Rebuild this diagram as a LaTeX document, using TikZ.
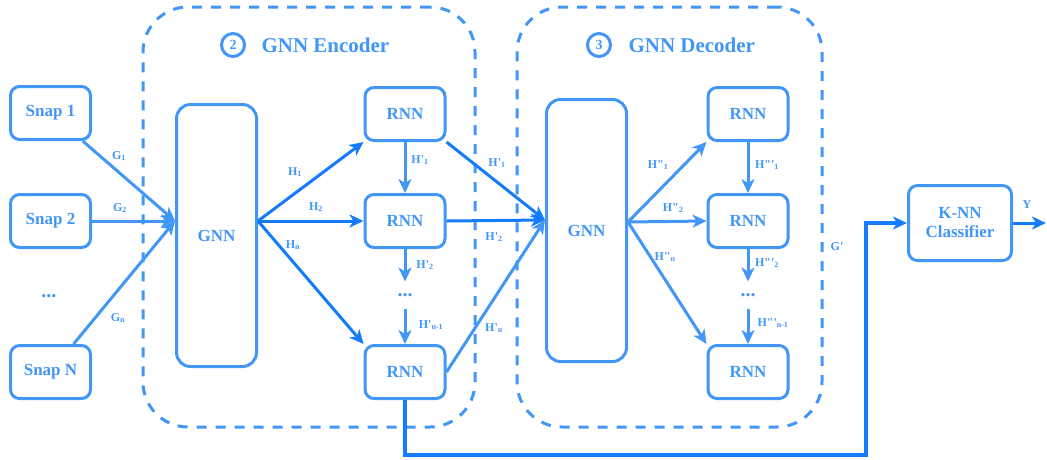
\documentclass[tikz,border=0pt]{standalone}
\usepackage{fontspec}
\setmainfont{Liberation Serif}
\usepackage{tikz}
\usetikzlibrary{arrows.meta}
\definecolor{boxblue}{RGB}{66,150,245}
\definecolor{arrowblue}{RGB}{20,124,250}
\newcommand{\pq}{\textquotesingle}
\newcommand{\pqq}{\textquotedbl}

\begin{document}
\begin{tikzpicture}[x=1pt,y=-1pt,->,>={Stealth[length=14pt,width=13pt,inset=4pt]},line width=3pt,draw=boxblue,
  box/.style={draw=boxblue,rounded corners=9pt,minimum width=80pt,minimum height=53pt,inner sep=0pt,text=boxblue,font=\fontsize{17}{19}\selectfont\bfseries,align=center},
  gnn node/.style={box,rounded corners=14pt,minimum height=262pt},
  container/.style={draw=boxblue,dash pattern=on 10pt off 9pt,rounded corners=45pt,minimum height=420pt,inner sep=0pt},
  num node/.style={circle,draw=boxblue,minimum size=23pt,inner sep=0pt,text=boxblue,font=\fontsize{14}{15}\selectfont\bfseries},
  title node/.style={anchor=west,inner sep=0pt,text=boxblue,font=\fontsize{21}{23}\selectfont\bfseries},
  dots node/.style={inner sep=0pt,minimum height=24pt,text=boxblue,font=\fontsize{20}{22}\selectfont\bfseries},
  lbl/.style={inner sep=0pt,text=boxblue,font=\fontsize{12}{13}\selectfont\bfseries},
  dark/.style={draw=arrowblue}]
  \useasboundingbox (0,0) rectangle (1047,459);

  % containers and titles
  \node[container,minimum width=332pt] (enc) at (309,217) {};
  \node[container,minimum width=305pt] (dec) at (669.5,217) {};
  \node[num node] (n2) at (233,45) {2};
  \node[title node] (enctitle) at (260,45) {GNN Encoder};
  \node[num node] (n3) at (599,45) {3};
  \node[title node] (dectitle) at (627,45) {GNN Decoder};

  % snapshots
  \node[box] (snap1) at (50.5,113) {Snap 1};
  \node[box] (snap2) at (50.5,221) {Snap 2};
  \node[dots node] (snapdots) at (49,296) {...};
  \node[box] (snapn) at (50.5,372) {Snap N};

  % encoder
  \node[gnn node] (gnnenc) at (216.5,235.5) {GNN};
  \coordinate (gin) at (175,221);
  \coordinate (gout) at (258,221);
  \node[box] (rnn1) at (405,114) {RNN};
  \node[box] (rnn2) at (405,221) {RNN};
  \node[dots node] (edots) at (405,295) {...};
  \node[box] (rnn3) at (405,372) {RNN};

  % decoder
  \node[gnn node] (gnndec) at (586.5,230.5) {GNN};
  \coordinate (din) at (545,220);
  \coordinate (dout) at (628,222);
  \node[box] (drnn1) at (748,114) {RNN};
  \node[box] (drnn2) at (748,221) {RNN};
  \node[dots node] (ddots) at (748,295) {...};
  \node[box] (drnn3) at (748,372) {RNN};

  % classifier
  \node[box,minimum width=103pt,minimum height=75pt] (knn) at (960,223) {K-NN\\Classifier};
  \coordinate (yout) at (1046,223);
  \coordinate (gcorner) at (866,455);

  \draw (snap1) -- (gin);
  \draw (snap2) -- (gin);
  \draw (snapn) -- (gin);
  \draw[dark] (gout) -- (rnn1.south west);
  \draw[dark] (gout) -- (rnn2.west);
  \draw[dark] (gout) -- (rnn3.north west);
  \draw (rnn1) -- (rnn2);
  \draw (rnn2) -- (edots.north);
  \draw (edots.south) -- (rnn3);
  \draw[dark] (rnn1.south east) -- (din);
  \draw[dark] (rnn2.east) -- (din);
  \draw (rnn3.east) -- (din);
  \draw (dout) -- (drnn1.south west);
  \draw (dout) -- (drnn2.west);
  \draw (dout) -- (drnn3.north west);
  \draw (drnn1) -- (drnn2);
  \draw (drnn2) -- (ddots.north);
  \draw (ddots.south) -- (drnn3);
  \draw[dark,line width=4pt] (rnn3.south) |- (gcorner) |- (knn.west);
  \draw[dark] (knn.east) -- (yout);

  % labels
  \node[lbl] (g1) at (119,156) {G\textsubscript{1}};
  \node[lbl] (g2) at (120,208) {G\textsubscript{2}};
  \node[lbl] (gn) at (118,318) {G\textsubscript{n}};
  \node[lbl] (h1) at (295,172) {H\textsubscript{1}};
  \node[lbl] (h2) at (316,207) {H\textsubscript{2}};
  \node[lbl] (hn) at (293,245) {H\textsubscript{n}};
  \node[lbl] (hp1) at (420,160) {H\pq\textsubscript{1}};
  \node[lbl] (hp2) at (425,265) {H\pq\textsubscript{2}};
  \node[lbl] (hpn1) at (431,325) {H\pq\textsubscript{n-1}};
  \node[lbl] (hq1) at (497,163) {H\pq\textsubscript{1}};
  \node[lbl] (hq2) at (494,237) {H\pq\textsubscript{2}};
  \node[lbl] (hqn) at (494,328) {H\pq\textsubscript{n}};
  \node[lbl] (hpp1) at (658,165) {H\pqq\textsubscript{1}};
  \node[lbl] (hpp2) at (673,208) {H\pqq\textsubscript{2}};
  \node[lbl] (hppn) at (665,257) {H\pqq\textsubscript{n}};
  \node[lbl] (hppp1) at (767,165) {H\pqq\pq\textsubscript{1}};
  \node[lbl] (hppp2) at (767,263) {H\pqq\pq\textsubscript{2}};
  \node[lbl] (hpppn1) at (773,323) {H\pqq\pq\textsubscript{n-1}};
  \node[lbl] (gprime) at (837,247) {G\pq};
  \node[lbl] (ylbl) at (1027,205) {Y};
\end{tikzpicture}
\end{document}
